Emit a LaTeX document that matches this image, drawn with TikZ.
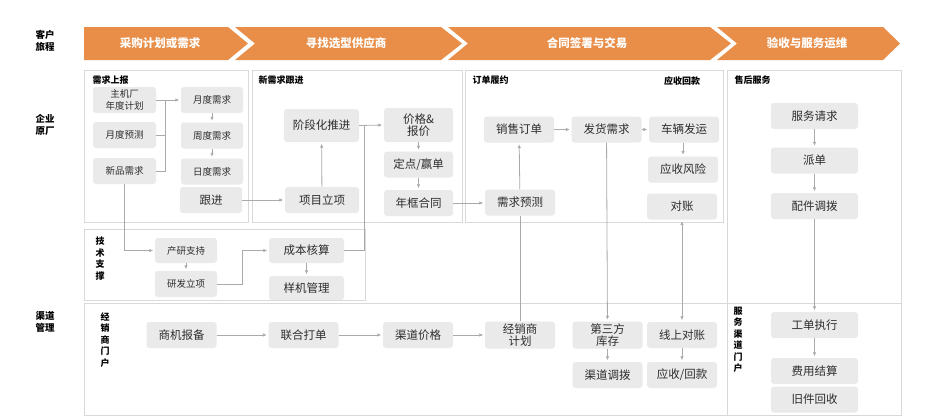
\documentclass[tikz,border=0pt]{standalone}
\usepackage{fontspec}
\setmainfont{Noto Sans CJK SC}
\usepackage{tikz}
\usetikzlibrary{arrows.meta, positioning, calc}
\usepackage{xcolor}
\definecolor{bannerorange}{RGB}{232,142,72}
\definecolor{boxgray}{RGB}{234,234,234}
\definecolor{txtgray}{RGB}{45,45,45}
\definecolor{wiregray}{RGB}{170,170,170}
\definecolor{panelgray}{RGB}{217,217,217}

\begin{document}
\begin{tikzpicture}[x=1pt, y=-1pt,
  box/.style={fill=boxgray, rounded corners=3pt, text=txtgray, align=center,
    inner sep=0pt, minimum width=70pt, minimum height=26pt,
    font=\fontsize{11.5}{12.5}\selectfont},
  smallbox/.style={box, font=\fontsize{9.5}{11.5}\selectfont},
  panel/.style={draw=panelgray, line width=0.8pt},
  paneltitle/.style={anchor=west, text=black, font=\bfseries\fontsize{9}{10}\selectfont},
  rowlabel/.style={align=center, text=black, font=\bfseries\fontsize{9.5}{12}\selectfont},
  vlabel/.style={align=center, text=black, inner sep=0pt, font=\bfseries\fontsize{9}{11.5}\selectfont},
  stage/.style={text=white, font=\bfseries\fontsize{11.5}{12}\selectfont},
  wire/.style={draw=wiregray, line width=0.8pt},
  flow/.style={wire, -{Latex[length=4pt,width=3.5pt]}, shorten >=1.5pt},
  twoway/.style={wire, {Latex[length=4pt,width=3.5pt]}-{Latex[length=4pt,width=3.5pt]}, shorten >=1.5pt, shorten <=1.5pt}]

  \fill[white] (0,0) rectangle (925,418);
  \useasboundingbox (0,0) rectangle (925,418);

  % customer journey banner
  \fill[bannerorange] (84,27) -- (228,27) -- (248,43.5) -- (228,60) -- (84,60) -- cycle;
  \fill[bannerorange] (235,27) -- (441,27) -- (462,43.5) -- (441,60) -- (235,60) -- (255,43.5) -- cycle;
  \fill[bannerorange] (448,27) -- (710,27) -- (731,43.5) -- (710,60) -- (448,60) -- (468,43.5) -- cycle;
  \fill[bannerorange] (717,27) -- (883,27) -- (900,43.5) -- (883,60) -- (717,60) -- (737,43.5) -- cycle;
  \node[stage] (s1) at (160,43.5) {采购计划或需求};
  \node[stage] (s2) at (346,43.5) {寻找选型供应商};
  \node[stage] (s3) at (587,43.5) {合同签署与交易};
  \node[stage] (s4) at (807,43.5) {验收与服务运维};

  % row labels
  \node[rowlabel] (rl1) at (45,41) {客户\\旅程};
  \node[rowlabel] (rl2) at (45,125) {企业\\原厂};
  \node[rowlabel] (rl3) at (45,322) {渠道\\管理};

  % panels
  \draw[panel] (84,70) rectangle (248,222);
  \draw[panel] (252,70) rectangle (462,222);
  \draw[panel] (465,70) rectangle (723,222);
  \draw[panel] (727,70) rectangle (901,303);
  \draw[panel] (84,229) rectangle (365,300);
  \draw[panel] (84,303) rectangle (727,415);
  \draw[panel] (727,303) rectangle (901,415);

  \node[paneltitle] (t1) at (89,80) {需求上报};
  \node[paneltitle] (t2) at (255,80) {新需求跟进};
  \node[paneltitle] (t3) at (469,80) {订单履约};
  \node[paneltitle, anchor=center] (t4) at (682,81) {应收回款};
  \node[paneltitle] (t5) at (731,80) {售后服务};
  \node[vlabel] (v1) at (100,258.5) {技\\术\\支\\撑};
  \node[vlabel] (v2) at (105,340) {经\\销\\商\\门\\户};
  \node[vlabel] (v3) at (738,340) {服\\务\\渠\\道\\门\\户};

  % demand reporting
  \node[smallbox, minimum width=63pt] (zjc) at (124.5,100) {主机厂\\年度计划};
  \node[smallbox, minimum width=63pt] (ydyc) at (124.5,135) {月度预测};
  \node[smallbox, minimum width=63pt] (xpxq) at (124.5,171) {新品需求};
  \node[smallbox, minimum width=62pt] (ydxq) at (212,100) {月度需求};
  \node[smallbox, minimum width=62pt] (zdxq) at (212,135.5) {周度需求};
  \node[smallbox, minimum width=62pt] (rdxq) at (212,171.5) {日度需求};
  \node[box, minimum width=62pt] (gj) at (211,200) {跟进};

  % new demand follow-up
  \node[box, minimum width=75pt, minimum height=33pt] (jdh) at (321.5,125.5) {阶段化推进};
  \node[box, minimum width=74pt] (xmlx) at (322,200) {项目立项};
  \node[box, minimum width=69pt, minimum height=34pt] (jgbj) at (418.5,125) {价格\&\\报价};
  \node[box, minimum width=69pt] (ddyd) at (418.5,164.5) {定点/赢单};
  \node[box, minimum width=69pt] (nkht) at (418.5,203) {年框合同};

  % order fulfilment
  \node[box] (xsdd) at (519,129.5) {销售订单};
  \node[box] (fhxq) at (606.5,129.5) {发货需求};
  \node[box] (clfy) at (684,129.5) {车辆发运};
  \node[box] (yssx) at (683,169.5) {应收风险};
  \node[box] (dz) at (682,206.5) {对账};
  \node[box] (xqyc) at (520,202.5) {需求预测};

  % after-sales
  \node[box, minimum width=87pt] (fwqq) at (814.5,116) {服务请求};
  \node[box, minimum width=87pt] (pd) at (814.5,160.5) {派单};
  \node[box, minimum width=87pt] (pjdb) at (814.5,206) {配件调拨};

  % technical support
  \node[smallbox, minimum width=62pt, minimum height=25pt] (cyzc) at (186,250.5) {产研支持};
  \node[smallbox, minimum width=62pt] (yflx) at (186,284) {研发立项};
  \node[box, minimum width=75pt, minimum height=25pt] (cbhs) at (306.5,250.5) {成本核算};
  \node[box, minimum width=75pt, minimum height=24pt] (yjgl) at (306.5,288) {样机管理};

  % dealer portal
  \node[box] (sjbb) at (181.5,335) {商机报备};
  \node[box] (lhdd) at (303.5,335) {联合打单};
  \node[box] (qdjg) at (418,335) {渠道价格};
  \node[box, minimum height=27pt] (jxsjh) at (520,335) {经销商\\计划};
  \node[box, minimum height=27pt] (dsfkc) at (607.5,335) {第三方\\库存};
  \node[box] (xsdz) at (682,335) {线上对账};
  \node[box] (qddb) at (607.5,375) {渠道调拨};
  \node[box] (yshk) at (682,375) {应收/回款};

  % service channel portal
  \node[box, minimum width=87pt] (gdzx) at (814.5,325) {工单执行};
  \node[box, minimum width=87pt] (fyjs) at (814.5,371) {费用结算};
  \node[box, minimum width=87pt] (jjhs) at (814.5,399.5) {旧件回收};

  % connectors
  \coordinate (bus) at (165,100);
  \coordinate (join) at (364,125.5);
  \draw[flow] (zjc.east) -- (ydxq.west);
  \draw[wire] (ydyc.east) -| (bus);
  \draw[wire] (xpxq.east) -| (bus);
  \draw[flow] (ydxq) -- (zdxq);
  \draw[flow] (zdxq) -- (rdxq);
  \draw[flow] (gj) -- (xmlx);
  \draw[flow] (xpxq.south) |- (cyzc.west);
  \draw[flow] (cyzc) -- (yflx);
  \draw[flow] (yflx.east) -- ++(25,0) |- (cbhs.west);
  \draw[flow] (cbhs) -- (yjgl);
  \draw[wire] (cbhs.east) -| (join);
  \draw[flow] (xmlx) -- (jdh);
  \draw[flow] (jdh.east) -- (jgbj.west);
  \draw[flow] (jgbj) -- (ddyd);
  \draw[flow] (ddyd) -- (nkht);
  \draw[flow] (nkht.east) -- (xqyc.west |- nkht.east);
  \draw[flow] (xqyc) -- (xsdd);
  \draw[flow] (xsdd) -- (fhxq);
  \draw[flow] (fhxq) -- (clfy);
  \draw[flow] (clfy.south -| yssx) -- (yssx);
  \draw[wire] (xqyc) -- (jxsjh);
  \draw[flow] (fhxq) -- (dsfkc);
  \draw[twoway] (dz) -- (xsdz);
  \draw[flow] (sjbb) -- (lhdd);
  \draw[flow] (lhdd) -- (qdjg);
  \draw[flow] (qdjg) -- (jxsjh);
  \draw[flow] (dsfkc) -- (qddb);
  \draw[flow] (xsdz) -- (yshk);
  \draw[flow] (fwqq) -- (pd);
  \draw[flow] (pd) -- (pjdb);
  \draw[flow] (pjdb) -- (gdzx);
  \draw[flow] (gdzx) -- (fyjs);
\end{tikzpicture}
\end{document}
